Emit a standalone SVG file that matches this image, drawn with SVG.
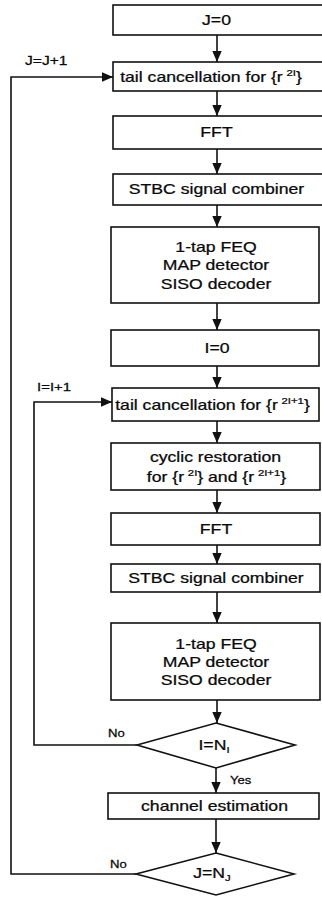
<svg xmlns="http://www.w3.org/2000/svg" width="322" height="897" viewBox="0 0 322 897">
<style>
.box{fill:#fff;stroke:#111;stroke-width:1.6}
.dia{fill:#fff;stroke:#111;stroke-width:1.6}
.ln{fill:none;stroke:#111;stroke-width:1.6}
text{font-family:"Liberation Sans",Arial,sans-serif;fill:#0a0a0a;stroke:#0a0a0a;stroke-width:0.25}
.t{font-size:14px;text-anchor:middle}
.lbl{font-size:10.5px}
.sup{font-size:9px}
</style>
<defs>
<marker id="ah" markerUnits="userSpaceOnUse" markerWidth="11" markerHeight="11" viewBox="0 0 11 11" refX="11" refY="5.5" orient="auto">
<path d="M0,0.8 L11,5.5 L0,10.2 Z" fill="#111"/>
</marker>
</defs>
<rect width="322" height="897" fill="#fff"/>
<g id="connectors">
<line class="ln" x1="217" y1="35" x2="217" y2="62" marker-end="url(#ah)"/>
<line class="ln" x1="217" y1="91" x2="217" y2="116" marker-end="url(#ah)"/>
<line class="ln" x1="217" y1="149" x2="217" y2="174" marker-end="url(#ah)"/>
<line class="ln" x1="217" y1="205" x2="217" y2="227" marker-end="url(#ah)"/>
<line class="ln" x1="217" y1="303" x2="217" y2="330" marker-end="url(#ah)"/>
<line class="ln" x1="217" y1="366" x2="217" y2="388" marker-end="url(#ah)"/>
<line class="ln" x1="217" y1="421" x2="217" y2="443" marker-end="url(#ah)"/>
<line class="ln" x1="217" y1="490" x2="217" y2="513" marker-end="url(#ah)"/>
<line class="ln" x1="217" y1="545" x2="217" y2="564" marker-end="url(#ah)"/>
<line class="ln" x1="217" y1="592" x2="217" y2="623" marker-end="url(#ah)"/>
<line class="ln" x1="217" y1="700" x2="217" y2="723" marker-end="url(#ah)"/>
<line class="ln" x1="216" y1="768" x2="216" y2="793" marker-end="url(#ah)"/>
<line class="ln" x1="216" y1="819" x2="216" y2="853" marker-end="url(#ah)"/>
<polyline class="ln" points="137,745 34,745 34,402 112,402" marker-end="url(#ah)"/>
<polyline class="ln" points="136,874 11,874 11,77 113,77" marker-end="url(#ah)"/>
<text class="lbl" transform="translate(25,65) scale(1.3,1)" style="font-size:12px">J=J+1</text>
<text class="lbl" transform="translate(37,391) scale(1.3,1)" style="font-size:11.5px">I=I+1</text>
<text class="lbl" transform="translate(108,737) scale(1.25,1)">No</text>
<text class="lbl" transform="translate(110,868) scale(1.25,1)">No</text>
<text class="lbl" transform="translate(230,784) scale(1.25,1)">Yes</text>
</g>
<g id="n1"><rect class="box" x="113" y="5" width="210" height="30"/>
<text class="t" transform="translate(216.5,25) scale(1.26,1)">J=0</text></g>
<g id="n2"><rect class="box" x="113" y="62" width="210" height="29"/>
<text class="t" transform="translate(211,82) scale(1.26,1)">tail cancellation for {r<tspan class="sup" dx="3" dy="-6">2I</tspan><tspan dy="6">}</tspan></text></g>
<g id="n3"><rect class="box" x="113" y="116" width="210" height="33"/>
<text class="t" transform="translate(216.5,137) scale(1.26,1)">FFT</text></g>
<g id="n4"><rect class="box" x="113" y="174" width="210" height="31"/>
<text class="t" transform="translate(216.5,194) scale(1.26,1)">STBC signal combiner</text></g>
<g id="n5"><rect class="box" x="111" y="227" width="208" height="76"/>
<text class="t" transform="translate(216,252) scale(1.26,1)">1-tap FEQ</text>
<text class="t" transform="translate(216,270) scale(1.26,1)">MAP detector</text>
<text class="t" transform="translate(216,289) scale(1.26,1)">SISO decoder</text></g>
<g id="n6"><rect class="box" x="111" y="330" width="208" height="36"/>
<text class="t" transform="translate(217,353) scale(1.26,1)">I=0</text></g>
<g id="n7"><rect class="box" x="112" y="388" width="207" height="33"/>
<text class="t" transform="translate(212.5,410) scale(1.26,1)">tail cancellation for {r<tspan class="sup" dx="3" dy="-6">2I+1</tspan><tspan dy="6">}</tspan></text></g>
<g id="n8"><rect class="box" x="111" y="443" width="209" height="47"/>
<text class="t" transform="translate(215.5,462) scale(1.26,1)">cyclic restoration</text>
<text class="t" transform="translate(216.5,482) scale(1.26,1)">for {r<tspan class="sup" dx="3" dy="-6">2I</tspan><tspan dy="6">} and {r</tspan><tspan class="sup" dx="3" dy="-6">2I+1</tspan><tspan dy="6">}</tspan></text></g>
<g id="n9"><rect class="box" x="111" y="513" width="209" height="32"/>
<text class="t" transform="translate(216,534) scale(1.26,1)">FFT</text></g>
<g id="n10"><rect class="box" x="111" y="564" width="209" height="28"/>
<text class="t" transform="translate(216,583) scale(1.26,1)">STBC signal combiner</text></g>
<g id="n11"><rect class="box" x="111" y="623" width="209" height="77"/>
<text class="t" transform="translate(216,648.5) scale(1.26,1)">1-tap FEQ</text>
<text class="t" transform="translate(216,666.5) scale(1.26,1)">MAP detector</text>
<text class="t" transform="translate(216,684.5) scale(1.26,1)">SISO decoder</text></g>
<g id="d1"><polygon class="dia" points="216,723 295,745 216,768 137,745"/>
<text class="t" transform="translate(214,750) scale(1.26,1)">I=N<tspan class="sup" dy="3">I</tspan></text></g>
<g id="n12"><rect class="box" x="108" y="793" width="211" height="26"/>
<text class="t" transform="translate(214.5,811) scale(1.26,1)">channel estimation</text></g>
<g id="d2"><polygon class="dia" points="216,853 294,874 216,895 136,874"/>
<text class="t" transform="translate(212,878) scale(1.26,1)">J=N<tspan class="sup" dy="3">J</tspan></text></g>
</svg>
